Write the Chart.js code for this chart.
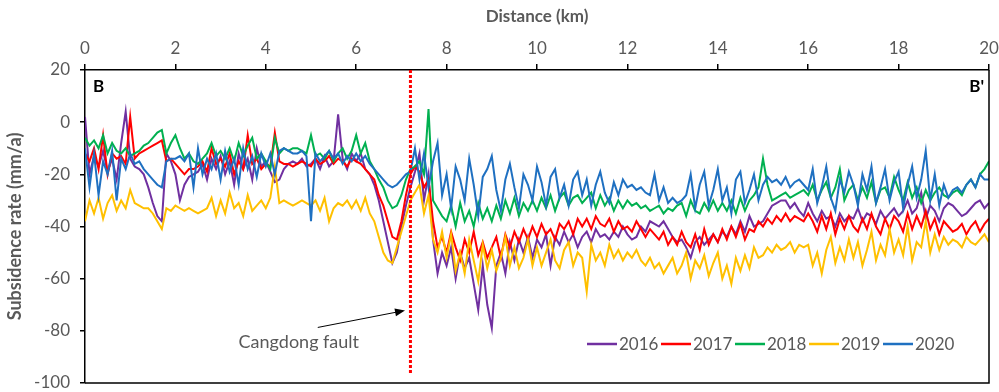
<!DOCTYPE html>
<html>
<head>
<meta charset="utf-8">
<title>Subsidence rate B-B'</title>
<script src="https://cdn.jsdelivr.net/npm/chart.js@4/dist/chart.umd.min.js"></script>
<style>
  html, body { margin: 0; padding: 0; background: #fff; }
  canvas { display: block; }
</style>
</head>
<body>
<canvas id="chart" width="999" height="392"></canvas>
<script>
// distance along profile B-B' (km)
const distanceKm = [
  0.0, 0.1, 0.2, 0.3, 0.4, 0.5, 0.6, 0.7, 0.8, 0.9,
  1.0, 1.1, 1.2, 1.3, 1.4, 1.5, 1.6, 1.7, 1.8, 1.9,
  2.0, 2.1, 2.2, 2.3, 2.4, 2.5, 2.6, 2.7, 2.8, 2.9,
  3.0, 3.1, 3.2, 3.3, 3.4, 3.5, 3.6, 3.7, 3.8, 3.9,
  4.0, 4.1, 4.2, 4.3, 4.4, 4.5, 4.6, 4.7, 4.8, 4.9,
  5.0, 5.1, 5.2, 5.3, 5.4, 5.5, 5.6, 5.7, 5.8, 5.9,
  6.0, 6.1, 6.2, 6.3, 6.4, 6.5, 6.6, 6.7, 6.8, 6.9,
  7.0, 7.1, 7.2, 7.3, 7.4, 7.5, 7.6, 7.7, 7.8, 7.9,
  8.0, 8.1, 8.2, 8.3, 8.4, 8.5, 8.6, 8.7, 8.8, 8.9,
  9.0, 9.1, 9.2, 9.3, 9.4, 9.5, 9.6, 9.7, 9.8, 9.9,
  10.0, 10.1, 10.2, 10.3, 10.4, 10.5, 10.6, 10.7, 10.8, 10.9,
  11.0, 11.1, 11.2, 11.3, 11.4, 11.5, 11.6, 11.7, 11.8, 11.9,
  12.0, 12.1, 12.2, 12.3, 12.4, 12.5, 12.6, 12.7, 12.8, 12.9,
  13.0, 13.1, 13.2, 13.3, 13.4, 13.5, 13.6, 13.7, 13.8, 13.9,
  14.0, 14.1, 14.2, 14.3, 14.4, 14.5, 14.6, 14.7, 14.8, 14.9,
  15.0, 15.1, 15.2, 15.3, 15.4, 15.5, 15.6, 15.7, 15.8, 15.9,
  16.0, 16.1, 16.2, 16.3, 16.4, 16.5, 16.6, 16.7, 16.8, 16.9,
  17.0, 17.1, 17.2, 17.3, 17.4, 17.5, 17.6, 17.7, 17.8, 17.9,
  18.0, 18.1, 18.2, 18.3, 18.4, 18.5, 18.6, 18.7, 18.8, 18.9,
  19.0, 19.1, 19.2, 19.3, 19.4, 19.5, 19.6, 19.7, 19.8, 19.9,
  20.0
];

// subsidence rate (mm/a), one value per distance
const rate2016 = [
  2, -20, -13, -17, -11, -19, -14, -22, -8, 4,
  -14, -17, -18, -20, -25, -31, -36, -38, -12, -15,
  -20, -30, -24, -21, -20, -19, -16, -22, -14, -18,
  -13, -20, -15, -24, -12, -18, -14, -22, -10, -17,
  -15, -19, -23, -22, -18, -16, -15, -16, -14, -17,
  -16, -14, -18, -13, -17, -15, 3, -14, -18, -12,
  -15, -12, -18, -20, -24, -30, -38, -46, -54, -50,
  -40, -32, -25, -19, -12, -30, -20, -45, -58, -50,
  -55, -48, -60, -50, -56, -52, -62, -72, -55, -70,
  -79, -55, -50, -58, -46, -53, -45, -50, -44, -52,
  -45, -48, -43, -55, -44, -47, -42, -46, -43, -48,
  -44, -42, -46, -41, -44, -43, -45, -42, -44, -40,
  -43, -45, -44, -40, -42, -38, -39, -40, -38, -41,
  -44, -46, -45, -48, -52, -46, -44, -47, -45, -43,
  -46, -42, -44, -40, -43, -38, -42, -36, -40, -39,
  -38, -35, -32, -31, -30, -30, -33, -31, -34, -36,
  -31, -35, -38, -34, -37, -36, -40, -35, -38, -36,
  -37, -33, -38, -35, -36, -39, -34, -37, -35, -33,
  -36, -34, -30, -35, -33, -27, -37, -32, -34, -38,
  -33, -31, -32, -34, -36, -35, -33, -31, -30, -33,
  -31
];
const rate2017 = [
  -12, -15, -10, -18, -5, -20, -12, -14, -13, -16,
  2, -14, -12, -11, -10, -9, -8, -7, -15, -14,
  -16, -18, -20, -18, -18, -17, -15, -19, -10, -16,
  -14, -17, -12, -20, -15, -18, -5, -16, -14, -18,
  -16, -17, -4, -15, -16, -16, -17, -16, -15, -16,
  -17, -14, -16, -15, -13, -16, -14, -15, -17, -14,
  -15, -16, -18, -20, -22, -28, -32, -38, -44, -45,
  -38, -28, -20, -17, -19, -25, -22, -38, -48, -44,
  -50, -42, -48, -53, -45, -50, -42, -51, -46, -52,
  -48, -44, -52, -43, -48, -42, -46, -41, -45, -40,
  -44, -39, -43, -41, -45, -39, -41, -38, -43, -37,
  -40, -37, -41, -36, -39, -40, -37, -42, -38, -41,
  -40, -42, -38, -41, -44, -41, -43, -45, -42, -47,
  -44, -47, -42, -46, -48, -43, -49, -41, -47, -43,
  -46, -41, -45, -40, -44, -39, -45, -41, -42, -38,
  -40, -37, -39, -36, -38, -35, -38, -36, -37, -38,
  -35, -38, -42, -36, -41, -35, -43, -37, -41, -36,
  -40, -42, -37, -41, -35, -40, -43, -37, -41, -36,
  -38, -42, -35, -41, -36, -40, -34, -41, -37, -43,
  -38, -40, -42, -41, -39, -43, -40, -38, -42, -39,
  -37
];
const rate2018 = [
  -6, -9, -7, -10, -5, -12, -8, -11, -12, -10,
  -13, -12, -11, -9, -8, -6, -4, -3, -12, -8,
  -5, -10, -14, -12, -15, -16, -14, -12, -8, -13,
  -11, -14, -10, -15, -8, -13, -9, -6, -14, -12,
  -15, -18, -6, -12, -10, -11, -10, -10, -11, -12,
  -5, -13, -12, -14, -11, -15, -12, -10, -14, -11,
  -5, -12, -8, -15, -18, -22, -25, -30, -33, -32,
  -28, -22, -18, -17, -15, -20, 5, -30, -33, -36,
  -38, -32, -40, -31, -38, -34, -40, -31, -37, -33,
  -38, -32, -37, -30, -35, -29, -36, -31, -34, -30,
  -34, -29, -33, -28, -34, -29, -27, -32, -29, -28,
  -31, -29, -27, -33, -28, -32, -29, -34, -30, -33,
  -30, -32, -31, -33, -32, -34, -33, -32, -35, -33,
  -34, -32, -31, -36, -30, -34, -35, -31, -34, -30,
  -34, -31, -34, -30, -35, -29, -34, -30, -28, -25,
  -14, -24, -30, -29, -28, -27, -29, -28, -27, -26,
  -28, -24, -30, -26, -23, -29, -25, -18, -30, -26,
  -24, -30, -25, -29, -23, -31, -26, -25, -29, -21,
  -26, -30, -23, -29, -25, -31, -26, -30, -27, -25,
  -28, -29, -27, -26, -28, -24, -22, -25, -20, -18,
  -15
];
const rate2019 = [
  -38, -30, -35, -29, -37, -31, -28, -34, -30, -33,
  -26, -31, -32, -33, -33, -35, -38, -41, -33, -34,
  -32, -33, -34, -33, -34, -35, -34, -33, -29, -36,
  -30, -35, -27, -33, -31, -36, -28, -34, -32, -30,
  -33, -29, -17, -31, -30, -31, -32, -31, -30, -31,
  -32, -30, -34, -29, -38, -33, -31, -32, -30, -33,
  -30, -34, -29, -35, -38, -44, -50, -53, -54, -48,
  -42, -36, -30, -27, -24, -35, -28, -45, -50, -42,
  -52, -43, -57, -50, -58, -45, -53, -61, -47, -56,
  -49, -57, -52, -44, -55, -48, -56, -52, -45, -55,
  -48, -55, -50, -45, -53, -56, -49, -46, -55, -50,
  -52, -65, -47, -53, -50, -55, -47, -52, -49, -53,
  -50, -52, -49, -53, -55, -52, -56, -54, -58, -55,
  -52, -58, -55, -50, -60, -53, -56, -51, -59, -54,
  -50, -60, -55, -62, -52, -57, -51, -56, -48, -52,
  -51, -48, -50, -47, -49, -48, -46, -50, -47, -48,
  -47, -55, -50, -58, -49, -44, -54, -48, -53, -45,
  -52, -46, -55, -49, -42, -53, -47, -51, -41, -50,
  -45, -51, -40, -53, -46, -48, -38, -50, -43, -49,
  -44, -47, -45, -46, -48, -44, -46, -47, -45, -43,
  -46
];
const rate2020 = [
  -10, -25, -12, -28, -15, -20, -11, -30, -14, -18,
  -12, -16, -15, -18, -20, -22, -24, -25, -15, -14,
  -14, -13, -15, -12, -25, -10, -20, -14, -18, -12,
  -22, -11, -19, -14, -24, -10, -18, -13, -21, -12,
  -17, -12, -20, -11, -10, -11, -12, -12, -11, -13,
  -38, -12, -15, -13, -11, -14, -12, -16, -13, -15,
  -12, -15, -13, -16, -18, -20, -22, -24, -25, -24,
  -22, -20, -19, -10, -22, -12, -25, -15, -8, -28,
  -20, -33, -17, -22, -30, -14, -24, -36, -21, -18,
  -13, -26, -34, -22, -16, -25, -33, -20, -24, -30,
  -17, -23, -32, -21, -18, -29, -24, -32, -22, -19,
  -28, -22, -32, -24, -19, -27, -31, -23, -28, -22,
  -25, -24, -26, -25, -27, -28, -20, -30, -25, -31,
  -29, -31, -30, -28, -20, -33, -24, -19, -32, -26,
  -18, -30, -25, -35, -22, -19, -31, -26, -20, -30,
  -24, -21, -23, -22, -24, -21, -25, -23, -22, -24,
  -26, -18, -31, -25, -17, -29, -34, -22, -27, -19,
  -24, -32, -20, -26, -17, -31, -25, -18, -30, -23,
  -19, -33, -24, -17, -29, -22, -11, -30, -20, -32,
  -24, -29, -26, -25, -27, -24, -22, -25, -20, -22,
  -22
];

const years = ['2016', '2017', '2018', '2019', '2020'];
const rates = [rate2016, rate2017, rate2018, rate2019, rate2020];
const colors = ['#7030A0', '#FF0000', '#00B050', '#FFC000', '#1F70C1'];

const xTicks = [0, 2, 4, 6, 8, 10, 12, 14, 16, 18, 20];
const yTicks = [-100, -80, -60, -40, -20, 0, 20];

// fault marker and its label, in data units
const faultKm = 7.2;
const faultLabel = { text: 'Cangdong fault', x: 4.73, y: -84.3 };
const arrowFrom = { x: 5.15, y: -78.7 };
const arrowTo = { x: 7.08, y: -72.2 };

const grey = '#595959';
const fontFamily = 'Lato, "Open Sans", sans-serif';

const overlay = {
  id: 'overlay',
  afterDatasetsDraw(chart) {
    const { ctx, chartArea: a, scales: { x, y } } = chart;
    ctx.save();

    // right + bottom frame
    ctx.strokeStyle = '#000';
    ctx.lineWidth = 1.5;
    ctx.beginPath();
    ctx.moveTo(a.right, a.top);
    ctx.lineTo(a.right, a.bottom);
    ctx.lineTo(a.left, a.bottom);
    ctx.stroke();

    // fault line
    const fx = x.getPixelForValue(faultKm);
    ctx.strokeStyle = '#FF0000';
    ctx.lineWidth = 3;
    ctx.setLineDash([3, 2]);
    ctx.beginPath();
    ctx.moveTo(fx, a.top);
    ctx.lineTo(fx, a.bottom - 9);
    ctx.stroke();
    ctx.setLineDash([]);

    // arrow
    const x0 = x.getPixelForValue(arrowFrom.x), y0 = y.getPixelForValue(arrowFrom.y);
    const x1 = x.getPixelForValue(arrowTo.x), y1 = y.getPixelForValue(arrowTo.y);
    const ang = Math.atan2(y1 - y0, x1 - x0);
    ctx.strokeStyle = '#000';
    ctx.fillStyle = '#000';
    ctx.lineWidth = 1;
    ctx.beginPath();
    ctx.moveTo(x0, y0);
    ctx.lineTo(x1 - 8 * Math.cos(ang), y1 - 8 * Math.sin(ang));
    ctx.stroke();
    ctx.beginPath();
    ctx.moveTo(x1, y1);
    ctx.lineTo(x1 - 10 * Math.cos(ang) + 4 * Math.sin(ang), y1 - 10 * Math.sin(ang) - 4 * Math.cos(ang));
    ctx.lineTo(x1 - 10 * Math.cos(ang) - 4 * Math.sin(ang), y1 - 10 * Math.sin(ang) + 4 * Math.cos(ang));
    ctx.closePath();
    ctx.fill();

    // fault label
    ctx.font = '18px ' + fontFamily;
    ctx.fillStyle = grey;
    ctx.textAlign = 'center';
    ctx.textBaseline = 'middle';
    ctx.fillText(faultLabel.text, x.getPixelForValue(faultLabel.x), y.getPixelForValue(faultLabel.y));

    // profile end labels
    ctx.font = 'bold 17px ' + fontFamily;
    ctx.fillStyle = '#000';
    ctx.textAlign = 'left';
    ctx.fillText('B', a.left + 8, a.top + 17);
    ctx.textAlign = 'right';
    ctx.fillText("B'", a.right - 5, a.top + 17);

    // legend
    ctx.font = '17px ' + fontFamily;
    ctx.textAlign = 'left';
    let lx = 587;
    const ly = 344;
    years.forEach((yr, i) => {
      ctx.strokeStyle = colors[i];
      ctx.lineWidth = 2.5;
      ctx.beginPath();
      ctx.moveTo(lx, ly);
      ctx.lineTo(lx + 30, ly);
      ctx.stroke();
      ctx.fillStyle = grey;
      ctx.fillText(yr, lx + 32, ly + 1);
      lx += 74;
    });

    ctx.restore();
  }
};

new Chart(document.getElementById('chart'), {
  type: 'line',
  data: {
    datasets: years.map((yr, i) => ({
      label: yr,
      data: distanceKm.map((d, j) => ({ x: d, y: rates[i][j] })),
      borderColor: colors[i],
      backgroundColor: colors[i],
      borderWidth: 2,
      pointRadius: 0,
      tension: 0,
      fill: false,
      order: years.length - 1 - i
    }))
  },
  options: {
    responsive: false,
    animation: false,
    layout: { padding: { right: 10, bottom: 9 } },
    plugins: { legend: { display: false }, tooltip: { enabled: false } },
    scales: {
      x: {
        type: 'linear',
        position: 'top',
        min: 0,
        max: 20,
        afterBuildTicks: s => { s.ticks = xTicks.map(v => ({ value: v })); },
        afterFit: s => { s.height = 70; s.paddingLeft = 0; s.paddingRight = 0; },
        ticks: { color: grey, font: { family: fontFamily, size: 17 }, padding: 5, maxRotation: 0 },
        grid: { drawOnChartArea: false, drawTicks: true, tickLength: 6, color: '#000', lineWidth: 1.5 },
        border: { color: '#000', width: 1.5 },
        title: {
          display: true,
          text: 'Distance (km)',
          color: grey,
          font: { family: fontFamily, size: 17, weight: 'bold' },
          padding: { top: 6, bottom: 0 }
        }
      },
      y: {
        min: -100,
        max: 20,
        afterBuildTicks: s => { s.ticks = yTicks.map(v => ({ value: v })); },
        afterFit: s => { s.width = 85; s.paddingTop = 0; s.paddingBottom = 0; },
        ticks: { color: grey, font: { family: fontFamily, size: 17 }, padding: 10 },
        grid: { drawOnChartArea: false, drawTicks: true, tickLength: 5, color: '#000', lineWidth: 1.5 },
        border: { color: '#000', width: 1.5 },
        title: {
          display: true,
          text: 'Subsidence rate (mm/a)',
          color: grey,
          font: { family: fontFamily, size: 18, weight: 'bold' },
          padding: { top: 4, bottom: 0 }
        }
      }
    }
  },
  plugins: [overlay]
});
</script>
</body>
</html>
